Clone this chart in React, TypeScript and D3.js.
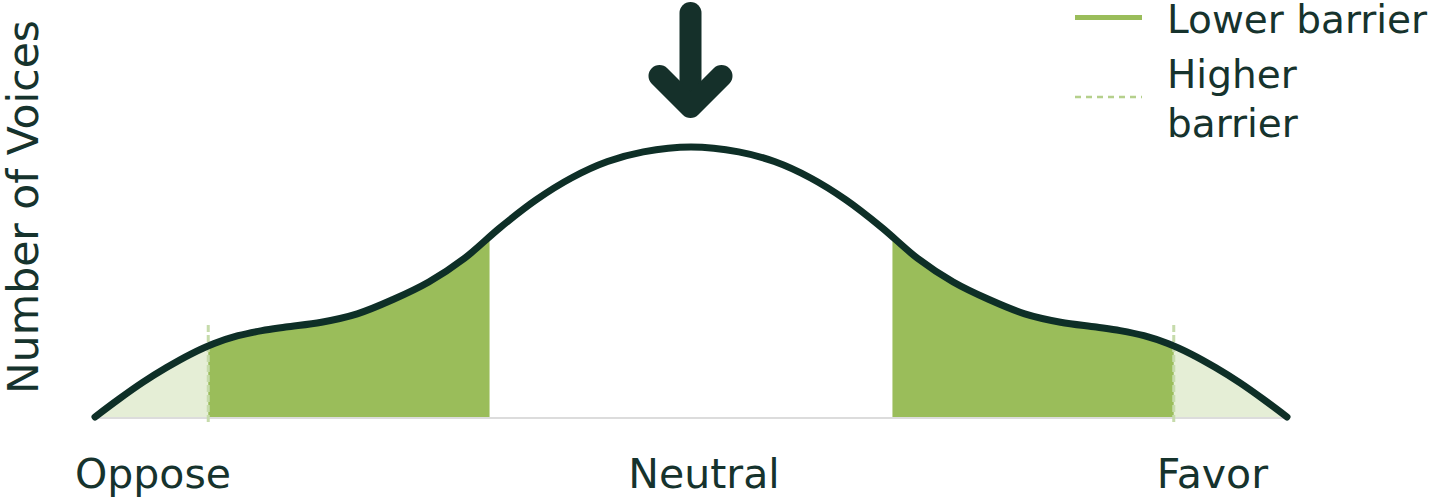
import React from "react";
import * as d3 from "d3";

// ---- data ----
const stance: number[] = [0, 2, 4, 6, 8, 10, 12, 14, 16, 19, 22, 25, 28, 31, 34, 37, 40, 43, 46, 50, 54, 57, 60, 63, 66, 69, 72, 75, 78, 81, 84, 86, 88, 90, 92, 94, 96, 98, 100];
const voices: number[] = [0, 6.6, 12.8, 18.3, 23.2, 27.2, 30.1, 32.0, 33.3, 35.1, 38.2, 43.5, 50.0, 58.8, 70.2, 80.4, 88.6, 94.6, 98.2, 100, 98.2, 94.6, 88.6, 80.4, 70.2, 58.8, 50.0, 43.5, 38.2, 35.1, 33.3, 32.0, 30.1, 27.2, 23.2, 18.3, 12.8, 6.6, 0];
const lowerBarrierRanges: [number, number][] = [[9.5, 33.1], [66.9, 90.5]];
const higherBarrierRanges: [number, number][] = [[0, 9.5], [90.5, 100]];
const barrierCuts: number[] = [9.5, 90.5];
const categoryLabels: string[] = ["Oppose", "Neutral", "Favor"];
const legendLabels: string[][] = [["Lower barrier"], ["Higher", "barrier"]];
const yAxisTitle = "Number of Voices";

const W = 1436;
const H = 497;
const FONT = "'DejaVu Sans', Verdana, sans-serif";
const TEXT = "#16332d";
const CURVE = "#0e2f27";
const GREEN = "#9abd5a";
const LIGHT = "#e5eed6";
const DASH = "#c6dbab";

export default function App() {
  const x = d3.scaleLinear().domain([0, 100]).range([95, 1287]);
  const y = d3.scaleLinear().domain([0, 100]).range([417, 147]);
  const pts = stance.map((s, i) => ({ s, v: voices[i] }));
  const curve = d3.curveCatmullRom.alpha(0.5);
  const line = d3
    .line<{ s: number; v: number }>()
    .x((d) => x(d.s))
    .y((d) => y(d.v))
    .curve(curve);
  const area = d3
    .area<{ s: number; v: number }>()
    .x((d) => x(d.s))
    .y0(y(0))
    .y1((d) => y(d.v))
    .curve(curve);
  const areaD = area(pts) || "";
  const cx = x(50);

  const catPos = [
    { x: x(0) - 20, anchor: "start" },
    { x: x(50) + 13, anchor: "middle" },
    { x: x(100) - 19, anchor: "end" },
  ];

  return (
    <svg width={W} height={H} style={{ position: "absolute", left: 0, top: 0, background: "#fff" }} fontFamily={FONT}>
      <defs>
        {higherBarrierRanges.map((r, i) => (
          <clipPath id={`hb${i}`} key={`hb${i}`}>
            <rect x={x(r[0])} y={0} width={x(r[1]) - x(r[0])} height={H} />
          </clipPath>
        ))}
        {lowerBarrierRanges.map((r, i) => (
          <clipPath id={`lb${i}`} key={`lb${i}`}>
            <rect x={x(r[0])} y={0} width={x(r[1]) - x(r[0])} height={H} />
          </clipPath>
        ))}
      </defs>

      {/* baseline */}
      <line x1={x(0)} x2={x(100)} y1={y(0) + 1} y2={y(0) + 1} stroke="#dcdcdc" strokeWidth={2} />

      {higherBarrierRanges.map((r, i) => (
        <path key={`ha${i}`} d={areaD} fill={LIGHT} clipPath={`url(#hb${i})`} />
      ))}
      {lowerBarrierRanges.map((r, i) => (
        <path key={`la${i}`} d={areaD} fill={GREEN} clipPath={`url(#lb${i})`} />
      ))}

      {barrierCuts.map((c, i) => (
        <line key={`cut${i}`} x1={x(c)} x2={x(c)} y1={325} y2={424} stroke={DASH} strokeWidth={3} strokeDasharray="7,3" />
      ))}

      <path d={line(pts) || ""} fill="none" stroke={CURVE} strokeWidth={7} strokeLinecap="round" strokeLinejoin="round" />

      {/* arrow */}
      <g stroke="#15302a" strokeWidth={22} strokeLinecap="round" strokeLinejoin="round" fill="none">
        <path d={`M${cx - 0.5},13 L${cx - 0.5},100`} />
        <path d={`M${cx - 31.5},76 L${cx - 0.5},107 L${cx + 30.5},76`} />
      </g>

      {/* y title */}
      <text transform={`translate(38,207) rotate(-90)`} textAnchor="middle" fontSize={42.5} fill={TEXT}>
        {yAxisTitle}
      </text>

      {/* categories */}
      {categoryLabels.map((c, i) => (
        <text key={c} x={catPos[i].x} y={488} textAnchor={catPos[i].anchor as any} fontSize={41} fill={TEXT}>
          {c}
        </text>
      ))}

      {/* legend */}
      <line x1={1075} x2={1142} y1={17.5} y2={17.5} stroke={GREEN} strokeWidth={5} />
      <line x1={1075} x2={1142} y1={97} y2={97} stroke="#b5d08c" strokeWidth={2.5} strokeDasharray="6,5" />
      <text x={1167} y={33} fontSize={39} fill={TEXT}>{legendLabels[0][0]}</text>
      {legendLabels[1].map((t, i) => (
        <text key={t} x={1167} y={88 + i * 49} fontSize={39} fill={TEXT}>{t}</text>
      ))}
    </svg>
  );
}
